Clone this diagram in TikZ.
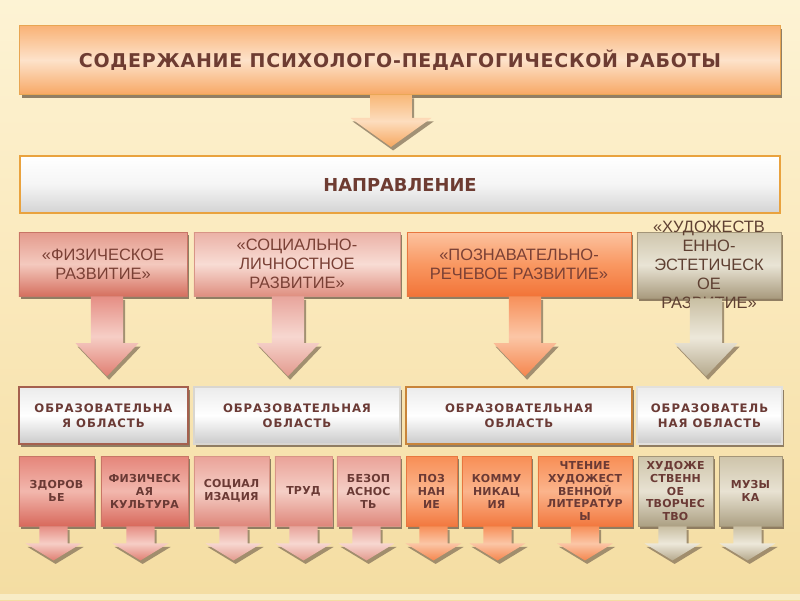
\documentclass[tikz,border=0pt]{standalone}
\usepackage{fontspec}
\setmainfont{Liberation Sans}
\newfontfamily\headfont[LetterSpace=4]{DejaVu Sans}
\newfontfamily\plainfont{DejaVu Sans}
\newfontfamily\areafont[LetterSpace=8]{DejaVu Sans}
\newfontfamily\subfont[LetterSpace=2]{DejaVu Sans}
\usetikzlibrary{calc,shadows}

\definecolor{bgtop}{HTML}{FDF3D4}
\definecolor{bgmid}{HTML}{FAE8BA}
\definecolor{bgbot}{HTML}{F4DDA2}
\definecolor{bgband}{HTML}{F8ECC6}
\definecolor{ink}{HTML}{6E3C32}
\definecolor{shadowc}{HTML}{85735A}

\newcommand\blockarrow[6]{% style, from, to, shaft half, head half, head length
  \fill[shadowc, opacity=.75, transform canvas={xshift=1.5pt, yshift=-2.5pt}]
    let \p1=(#2), \p2=(#3) in
    (\x1-#4,\y1) -- (\x1+#4,\y1) -- (\x1+#4,\y2+#6) -- (\x1+#5,\y2+#6)
    -- (\x1,\y2) -- (\x1-#5,\y2+#6) -- (\x1-#4,\y2+#6) -- cycle;
  \shade[#1]
    let \p1=(#2), \p2=(#3) in
    (\x1-#4,\y1) -- (\x1+#4,\y1) -- (\x1+#4,\y2+#6) -- (\x1+#5,\y2+#6)
    -- (\x1,\y2) -- (\x1-#5,\y2+#6) -- (\x1-#4,\y2+#6) -- cycle;
}

\tikzset{
  every node/.style={inner sep=0pt, align=center, text=ink},
  plate/.style={draw=#1, line width=0.6pt,
    drop shadow={shadow xshift=1.2pt, shadow yshift=-2.2pt, fill=shadowc, opacity=.9}},
  % fills
  titlefill/.style={top color=F9B276, bottom color=F7A865, middle color=FDE2CA},
  greyfill/.style={top color=EBEBEB, bottom color=CACACA, middle color=white},
  redfill/.style={top color=E49A8C, bottom color=D5705F, middle color=F4C9BE},
  pinkfill/.style={top color=EBB1A6, bottom color=DF8F80, middle color=F8DCD4},
  orangefill/.style={top color=FCC3A0, bottom color=F27438, middle color=F99862},
  khakifill/.style={top color=CFC6AD, bottom color=A99B7E, middle color=E9E4D5},
  redsub/.style={top color=E5857A, bottom color=D8695C, middle color=F2B7AD},
  pinksub/.style={top color=EAA298, bottom color=DE867A, middle color=F5CFC6},
  orangesub/.style={top color=F88E55, bottom color=F2783E, middle color=FBB48C},
  khakisub/.style={top color=CEC4AA, bottom color=ACA083, middle color=E8E2D2},
  % arrows
  titlearrow/.style={top color=F8B878, bottom color=F6A860, middle color=FDDDBE},
  redarrow/.style={top color=E58E84, bottom color=E07F72, middle color=F6CEC6},
  pinkarrow/.style={top color=E8A59C, bottom color=E39A8E, middle color=F7D7D0},
  orangearrow/.style={top color=F7905A, bottom color=F5864E, middle color=FBC6A6},
  khakiarrow/.style={top color=C9BFA3, bottom color=B5A98C, middle color=EDE8DA},
  % texts
  headtext/.style={font=\headfont\bfseries\fontsize{13.5}{16}\selectfont},
  naprtext/.style={font=\plainfont\bfseries\fontsize{12.7}{15}\selectfont},
  dirtext/.style={font=\fontsize{11.7}{13.5}\selectfont, text=7A4035},
  areatext/.style={font=\areafont\bfseries\fontsize{8.3}{10.7}\selectfont, text=6B3A35},
  subtext/.style={font=\subfont\bfseries\fontsize{7.8}{9.2}\selectfont, text=6B3A35},
}
\definecolor{F9B276}{HTML}{F9B276}\definecolor{F7A865}{HTML}{F7A865}\definecolor{FDE2CA}{HTML}{FDE2CA}
\definecolor{EBEBEB}{HTML}{EBEBEB}\definecolor{CACACA}{HTML}{CACACA}\definecolor{F5F5F5}{HTML}{F5F5F5}
\definecolor{E49A8C}{HTML}{E49A8C}\definecolor{D5705F}{HTML}{D5705F}\definecolor{F4C9BE}{HTML}{F4C9BE}
\definecolor{EBB1A6}{HTML}{EBB1A6}\definecolor{DF8F80}{HTML}{DF8F80}\definecolor{F8DCD4}{HTML}{F8DCD4}
\definecolor{FCC3A0}{HTML}{FCC3A0}\definecolor{F27438}{HTML}{F27438}\definecolor{F99862}{HTML}{F99862}
\definecolor{CFC6AD}{HTML}{CFC6AD}\definecolor{A99B7E}{HTML}{A99B7E}\definecolor{E9E4D5}{HTML}{E9E4D5}
\definecolor{E5857A}{HTML}{E5857A}\definecolor{D8695C}{HTML}{D8695C}\definecolor{F2B7AD}{HTML}{F2B7AD}
\definecolor{EAA298}{HTML}{EAA298}\definecolor{DE867A}{HTML}{DE867A}\definecolor{F5CFC6}{HTML}{F5CFC6}
\definecolor{F88E55}{HTML}{F88E55}\definecolor{F2783E}{HTML}{F2783E}\definecolor{FBB48C}{HTML}{FBB48C}
\definecolor{CEC4AA}{HTML}{CEC4AA}\definecolor{ACA083}{HTML}{ACA083}\definecolor{E8E2D2}{HTML}{E8E2D2}
\definecolor{F8B878}{HTML}{F8B878}\definecolor{F6A860}{HTML}{F6A860}\definecolor{FDDDBE}{HTML}{FDDDBE}
\definecolor{E58E84}{HTML}{E58E84}\definecolor{E07F72}{HTML}{E07F72}\definecolor{F6CEC6}{HTML}{F6CEC6}
\definecolor{E8A59C}{HTML}{E8A59C}\definecolor{E39A8E}{HTML}{E39A8E}\definecolor{F7D7D0}{HTML}{F7D7D0}
\definecolor{F7905A}{HTML}{F7905A}\definecolor{F5864E}{HTML}{F5864E}\definecolor{FBC6A6}{HTML}{FBC6A6}
\definecolor{C9BFA3}{HTML}{C9BFA3}\definecolor{B5A98C}{HTML}{B5A98C}\definecolor{EDE8DA}{HTML}{EDE8DA}
\definecolor{7A4035}{HTML}{7A4035}\definecolor{6B3A35}{HTML}{6B3A35}\definecolor{5F4032}{HTML}{5F4032}
\definecolor{E8A552}{HTML}{E8A552}\definecolor{E9A23E}{HTML}{E9A23E}\definecolor{D3D3D3}{HTML}{D3D3D3}
\definecolor{C87566}{HTML}{C87566}\definecolor{D89486}{HTML}{D89486}\definecolor{E8773F}{HTML}{E8773F}
\definecolor{A39578}{HTML}{A39578}\definecolor{A5604E}{HTML}{A5604E}\definecolor{D9D6D0}{HTML}{D9D6D0}
\definecolor{C8843A}{HTML}{C8843A}\definecolor{E2E0DC}{HTML}{E2E0DC}

\begin{document}
\begin{tikzpicture}[x=0.025cm, y=-0.025cm]
  \useasboundingbox (0,0) rectangle (800,600);
  % background
  \shade[top color=bgtop, bottom color=bgbot, middle color=bgmid] (0,0) rectangle (800,600);
  \fill[bgband] (0,594) rectangle (800,600);

  % head boxes
  \node[plate=E8A552, titlefill, headtext, minimum width=19cm, minimum height=1.725cm] (title) at (400,60)
    {СОДЕРЖАНИЕ ПСИХОЛОГО-ПЕДАГОГИЧЕСКОЙ РАБОТЫ};
  \node[draw=E9A23E, line width=1.5pt, top color=white, bottom color=D3D3D3, middle color=F5F5F5,
    naprtext, minimum width=19cm, minimum height=1.425cm] (napr) at (400,184.5) {НАПРАВЛЕНИЕ};
  \blockarrow{titlearrow}{$(title.south)+(-9,0)$}{$(napr.north)+(0,-8)$}{14.9pt}{28.8pt}{20.6pt}

  % directions
  \node[plate=C87566, redfill, dirtext, minimum width=4.2cm, minimum height=1.6cm] (fiz) at (103,264)
    {«ФИЗИЧЕСКОЕ\\РАЗВИТИЕ»};
  \node[plate=D89486, pinkfill, dirtext, minimum width=5.15cm, minimum height=1.6cm] (soc) at (297,264)
    {«СОЦИАЛЬНО-\\ЛИЧНОСТНОЕ\\РАЗВИТИЕ»};
  \node[plate=E8773F, orangefill, dirtext, minimum width=5.6cm, minimum height=1.6cm] (pozn) at (519,264)
    {«ПОЗНАВАТЕЛЬНО-\\РЕЧЕВОЕ РАЗВИТИЕ»};
  \node[plate=A39578, khakifill, minimum width=3.6cm, minimum height=1.65cm] (hud) at (709,265) {};
  \node[dirtext, text=5F4032] (hudtext) at (hud.center)
    {«ХУДОЖЕСТВ\\ЕННО-\\ЭСТЕТИЧЕСК\\ОЕ\\РАЗВИТИЕ»};

  % areas
  \node[plate=A5604E, line width=1.1pt, greyfill, areatext, minimum width=4.225cm, minimum height=1.425cm] (ofiz) at (103.5,415.5)
    {ОБРАЗОВАТЕЛЬНА\\Я ОБЛАСТЬ};
  \node[plate=D9D6D0, line width=1.1pt, greyfill, areatext, minimum width=5.15cm, minimum height=1.425cm] (osoc) at (297,415.5)
    {ОБРАЗОВАТЕЛЬНАЯ\\ОБЛАСТЬ};
  \node[plate=C8843A, line width=1.1pt, greyfill, areatext, minimum width=5.65cm, minimum height=1.425cm] (opozn) at (519,415.5)
    {ОБРАЗОВАТЕЛЬНАЯ\\ОБЛАСТЬ};
  \node[plate=E2E0DC, line width=1.1pt, greyfill, areatext, minimum width=3.625cm, minimum height=1.425cm] (ohud) at (709.5,415.5)
    {ОБРАЗОВАТЕЛЬ\\НАЯ ОБЛАСТЬ};

  \blockarrow{redarrow}{$(fiz.south)+(4,0)$}{$(ofiz.north)+(0,-10)$}{11.4pt}{22.4pt}{23.5pt}
  \blockarrow{pinkarrow}{$(soc.south)+(-9,0)$}{$(osoc.north)+(0,-10)$}{11.4pt}{22.4pt}{23.5pt}
  \blockarrow{orangearrow}{$(pozn.south)+(6,0)$}{$(opozn.north)+(0,-10)$}{11.4pt}{22.4pt}{23.5pt}
  \blockarrow{khakiarrow}{$(hud.south)+(-3,0)$}{$(ohud.north)+(0,-10)$}{11.4pt}{22.4pt}{23.5pt}

  % subjects
  \node[plate=C87566, redsub, subtext, minimum width=1.875cm, minimum height=1.75cm] (zdor) at (56.5,491) {ЗДОРОВ\\ЬЕ};
  \node[plate=C87566, redsub, subtext, minimum width=2.175cm, minimum height=1.75cm] (fizk) at (144.5,491) {ФИЗИЧЕСК\\АЯ\\КУЛЬТУРА};
  \node[plate=D89486, pinksub, subtext, minimum width=1.875cm, minimum height=1.75cm] (socz) at (231.5,491) {СОЦИАЛ\\ИЗАЦИЯ};
  \node[plate=D89486, pinksub, subtext, minimum width=1.425cm, minimum height=1.75cm] (trud) at (303.5,491) {ТРУД};
  \node[plate=D89486, pinksub, subtext, minimum width=1.575cm, minimum height=1.75cm] (bez) at (368.5,491) {БЕЗОП\\АСНОС\\ТЬ};
  \node[plate=E8773F, orangesub, subtext, minimum width=1.275cm, minimum height=1.75cm] (poz) at (431.5,491) {ПОЗ\\НАН\\ИЕ};
  \node[plate=E8773F, orangesub, subtext, minimum width=1.725cm, minimum height=1.75cm] (komm) at (496.5,491) {КОММУ\\НИКАЦ\\ИЯ};
  \node[plate=E8773F, orangesub, subtext, minimum width=2.35cm, minimum height=1.75cm] (cht) at (585,491) {ЧТЕНИЕ\\ХУДОЖЕСТ\\ВЕННОЙ\\ЛИТЕРАТУР\\Ы};
  \node[plate=A39578, khakisub, subtext, minimum width=1.875cm, minimum height=1.75cm] (tvor) at (675.5,491) {ХУДОЖЕ\\СТВЕНН\\ОЕ\\ТВОРЧЕС\\ТВО};
  \node[plate=A39578, khakisub, subtext, minimum width=1.575cm, minimum height=1.75cm] (muz) at (750.5,491) {МУЗЫ\\КА};

  \blockarrow{redarrow}{$(zdor.south)+(-3,0)$}{$(zdor.south)+(0,34)$}{10pt}{19.9pt}{12.1pt}
  \blockarrow{redarrow}{$(fizk.south)+(-4,0)$}{$(fizk.south)+(0,34)$}{10pt}{19.9pt}{12.1pt}
  \blockarrow{pinkarrow}{$(socz.south)+(2,0)$}{$(socz.south)+(0,34)$}{10pt}{19.9pt}{12.1pt}
  \blockarrow{pinkarrow}{$(trud.south)+(0,0)$}{$(trud.south)+(0,34)$}{10pt}{19.9pt}{12.1pt}
  \blockarrow{pinkarrow}{$(bez.south)+(-2,0)$}{$(bez.south)+(0,34)$}{10pt}{19.9pt}{12.1pt}
  \blockarrow{orangearrow}{$(poz.south)+(2,0)$}{$(poz.south)+(0,34)$}{10pt}{19.9pt}{12.1pt}
  \blockarrow{orangearrow}{$(komm.south)+(1,0)$}{$(komm.south)+(0,34)$}{10pt}{19.9pt}{12.1pt}
  \blockarrow{orangearrow}{$(cht.south)+(0,0)$}{$(cht.south)+(0,34)$}{10pt}{19.9pt}{12.1pt}
  \blockarrow{khakiarrow}{$(tvor.south)+(-3,0)$}{$(tvor.south)+(0,34)$}{10pt}{19.9pt}{12.1pt}
  \blockarrow{khakiarrow}{$(muz.south)+(-3,0)$}{$(muz.south)+(0,34)$}{10pt}{19.9pt}{12.1pt}
\end{tikzpicture}
\end{document}
